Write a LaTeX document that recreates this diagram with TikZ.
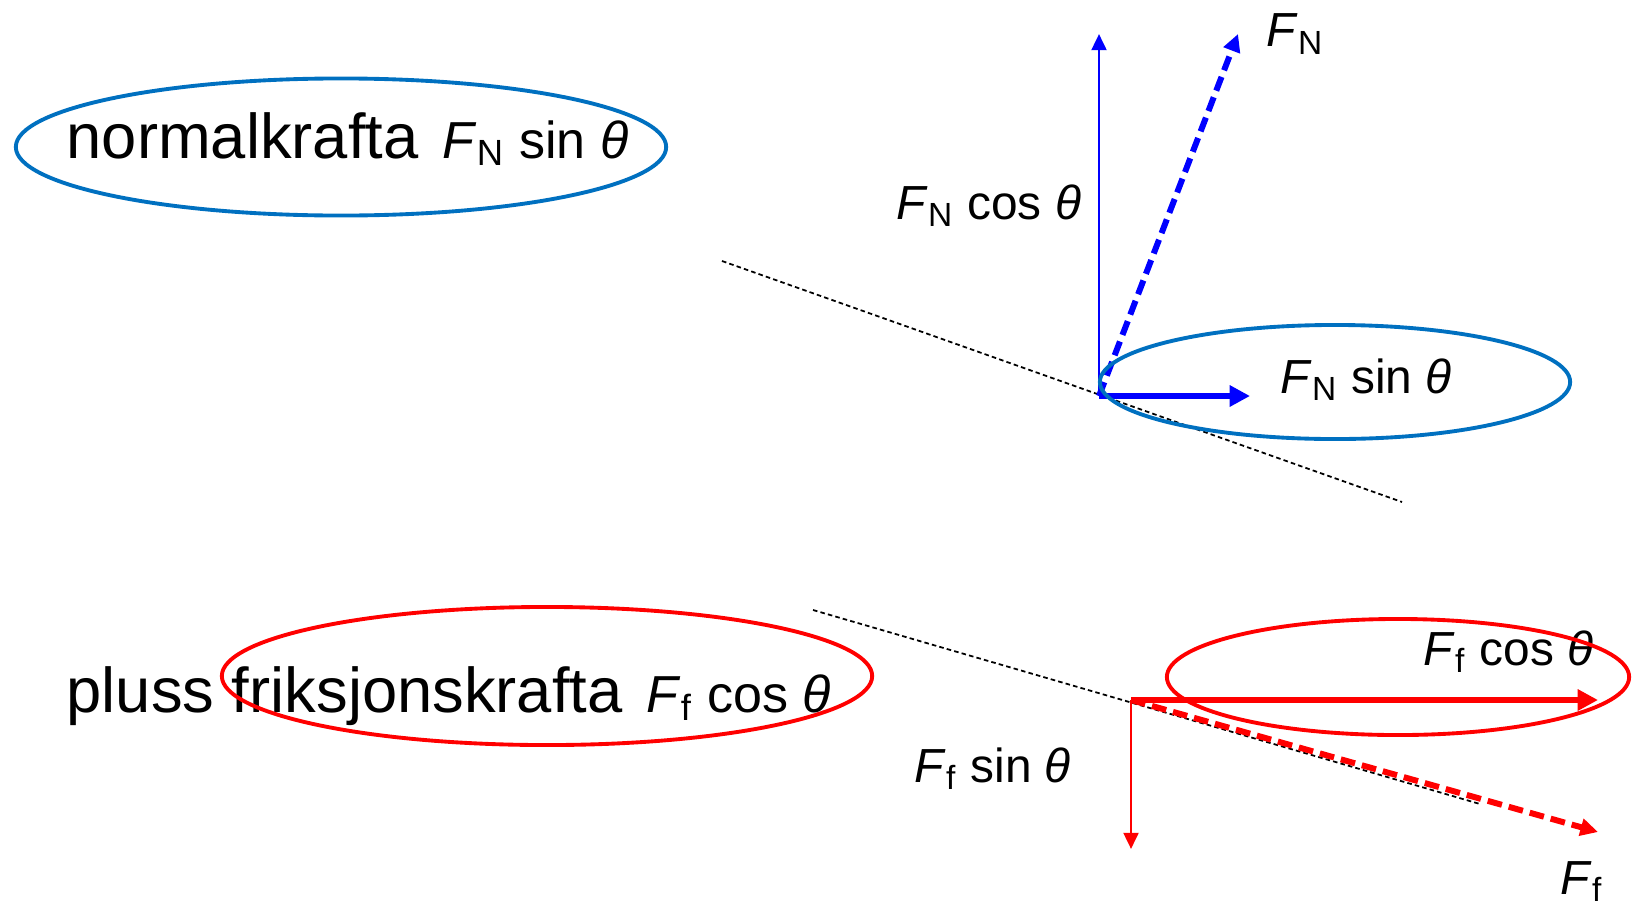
\documentclass[tikz,border=0pt]{standalone}
\usepackage{fontspec}
\setmainfont{Liberation Sans}
\usetikzlibrary{arrows.meta, shapes.geometric, positioning}
\definecolor{forceblue}{RGB}{0,0,255}
\definecolor{ringblue}{RGB}{0,112,192}
\definecolor{forcered}{RGB}{255,0,0}
\newcommand{\FN}{\textit{F}\textsubscript{N}}
\newcommand{\Ff}{\textit{F}\textsubscript{f}}
\newcommand{\thet}{\textit{θ}}
\newcommand{\formsize}{\fontsize{14.8}{18}\selectfont}

\begin{document}
\begin{tikzpicture}[
  x=0.01cm, y=-0.01cm,
  big/.style={font=\fontsize{18}{21}\selectfont, anchor=base west, inner sep=0pt},
  lbl/.style={font=\fontsize{13.6}{16}\selectfont, anchor=base west, inner sep=0pt},
  ring/.style={ellipse, draw, line width=1.1pt, inner sep=0pt},
  vec/.style={-{Triangle[length=4.6pt, width=4.2pt]}, line width=0.8pt},
  thickvec/.style={-{Triangle[length=5.8pt, width=5.8pt]}, line width=1.9pt},
  dashvec/.style={-{Triangle[length=5pt, width=4.8pt]}, line width=1.7pt,
                  dash pattern=on 4.2pt off 2pt},
  guide/.style={line width=0.5pt, dash pattern=on 1.3pt off 0.9pt},
]
  \useasboundingbox (0,0) rectangle (1634,909);

  % upper part: normal force
  \coordinate (oN) at (1099,396);
  \coordinate (nUp) at (1099,34);
  \coordinate (nTip) at (1238,34);
  \coordinate (nSide) at (1250,396);
  \coordinate (slopeA) at (722,261);
  \coordinate (slopeB) at (1402,502);

  \draw[guide] (slopeA) -- (slopeB);
  \draw[vec, forceblue] (oN) -- (nUp);
  \draw[dashvec, forceblue] (oN) -- (nTip);
  \draw[thickvec, forceblue] (oN) -- (nSide);

  \node[lbl] (lblFN) at (1266,47) {\FN};
  \node[lbl] (lblFNcos) at (896,219) {\FN{} cos \thet};
  \node[lbl] (lblFNsin) at (1280,393) {\FN{} sin \thet};
  \node[big] (txtNormal) at (66,158) {normalkrafta\hspace{0.38em}{\formsize\FN{} sin \thet}};

  \node[ring, draw=ringblue, minimum width=6.5cm, minimum height=1.37cm] (ringNormal) at (341,147) {};
  \node[ring, draw=ringblue, minimum width=4.7cm, minimum height=1.14cm] (ringSin) at (1335,382) {};

  % lower part: friction force
  \coordinate (oF) at (1131,700);
  \coordinate (fDown) at (1131,849);
  \coordinate (fTip) at (1598,832);
  \coordinate (fSide) at (1598,700);
  \coordinate (slopeC) at (813,610);
  \coordinate (slopeD) at (1480,804);

  \draw[guide] (slopeC) -- (slopeD);
  \draw[vec, forcered] (oF) -- (fDown);
  \draw[dashvec, forcered] (oF) -- (fTip);
  \draw[thickvec, forcered] (oF) -- (fSide);

  \node[lbl] (lblFf) at (1560,894) {\Ff};
  \node[lbl] (lblFfcos) at (1423,665) {\Ff{} cos \thet};
  \node[lbl] (lblFfsin) at (914,782) {\Ff{} sin \thet};
  \node[big] (txtFriction) at (66,712) {pluss friksjonskrafta\hspace{0.38em}{\formsize\Ff{} cos \thet}};

  \node[ring, draw=forcered, minimum width=6.5cm, minimum height=1.38cm] (ringFriction) at (547,676) {};
  \node[ring, draw=forcered, minimum width=4.62cm, minimum height=1.16cm] (ringCos) at (1398,677) {};
\end{tikzpicture}
\end{document}
